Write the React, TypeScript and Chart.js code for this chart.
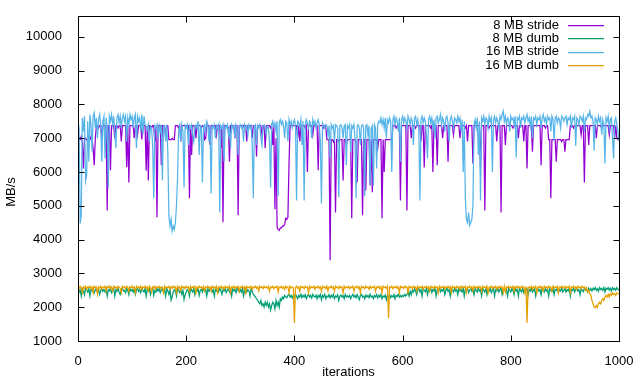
import React, { useEffect, useRef } from "react";
import { Chart, registerables } from "chart.js";

Chart.register(...registerables);

// iteration sampling grid (every 2nd iteration, 0..1000)
const ITERATIONS: number[] = Array.from({ length: 501 }, (_, i) => i * 2);

const SERIES_LABELS = ["8 MB stride", "8 MB dumb", "16 MB stride", "16 MB dumb"];
const SERIES_COLORS = ["#9400d3", "#009e73", "#56b4e9", "#e69f00"];

const X_TICKS = [0, 200, 400, 600, 800, 1000];
const Y_TICKS = [1000, 2000, 3000, 4000, 5000, 6000, 7000, 8000, 9000, 10000];

const STRIDE_8MB = [
  7000, 6960, 6960, 7050, 6900, 6100, 6960, 7000, 6960, 6900, 6960, 7050, 6960, 6960, 6700, 6200, 7000, 7370, 7370, 7300, 7370, 7370, 7000, 7370, 7370,
  7370, 7300, 4860, 7370, 7370, 6050, 7370, 7370, 7370, 7000, 7370, 7370, 7300, 7370, 7370, 6900, 7370, 7370, 7370, 7370, 6140, 7370, 5690, 7370, 7370,
  7370, 7370, 7000, 7370, 7370, 7100, 7370, 7370, 7370, 6960, 7370, 7370, 7370, 6040, 7370, 5750, 7370, 7370, 7300, 7370, 7370, 6900, 7370, 4660, 7370,
  7370, 7370, 6200, 7370, 7370, 7370, 7000, 7370, 7370, 6960, 6960, 6960, 7000, 6960, 6960, 7370, 7370, 7370, 7300, 7370, 6900, 7370, 7370, 7370, 7370,
  7370, 7370, 7370, 5220, 7370, 6500, 7370, 7370, 7370, 7000, 7370, 7370, 7370, 7370, 7300, 7370, 7370, 6960, 7000, 7370, 7370, 7370, 6800, 7370, 7370,
  7370, 7370, 7370, 7100, 7370, 7370, 7370, 6700, 7370, 4510, 7370, 7370, 7370, 7370, 7300, 6300, 7370, 7370, 7370, 7370, 7000, 7370, 7370, 4720, 7370,
  7370, 7370, 7300, 7370, 7370, 7370, 6900, 7370, 7370, 7370, 7370, 7000, 7370, 7370, 7370, 6460, 7370, 7370, 7370, 7370, 7100, 7370, 7370, 6700, 7370,
  7370, 7370, 7370, 7300, 7370, 6800, 7370, 4900, 7000, 4360, 4300, 4270, 4350, 4350, 4400, 4400, 4450, 4630, 4600, 4650, 6200, 7370, 7370, 7370, 7370,
  7370, 7370, 7370, 7000, 7370, 6900, 7370, 7370, 7370, 7370, 7300, 7370, 6000, 7370, 7370, 7370, 7370, 7100, 7370, 7370, 7370, 7370, 6050, 7370, 7370,
  7370, 7370, 7300, 7370, 7370, 6960, 6960, 6960, 3390, 6960, 6960, 6900, 6960, 4800, 6960, 6960, 6900, 6960, 6960, 6960, 5750, 6960, 6960, 6800, 6960,
  6960, 6960, 6960, 4630, 6960, 6960, 6960, 6900, 5700, 6960, 6960, 6960, 6960, 4720, 6960, 6960, 5450, 6960, 6960, 6960, 5600, 6960, 5400, 6960, 6960,
  6960, 6960, 6700, 6960, 6960, 6960, 4630, 6960, 6000, 6960, 6960, 6960, 6950, 6960, 6960, 6960, 7370, 7370, 7370, 7300, 7370, 7370, 7370, 5160, 7370,
  7370, 7370, 7370, 7370, 4860, 7370, 7370, 7370, 7000, 7370, 7370, 7370, 7300, 7370, 7370, 7370, 7370, 6900, 7370, 7370, 6130, 7370, 7370, 7370, 7370,
  7370, 7300, 7370, 6000, 7370, 7370, 7370, 6200, 7370, 7370, 7370, 7370, 7000, 7370, 7370, 7370, 7370, 6300, 7370, 7370, 7370, 7370, 7100, 7370, 7370,
  7370, 7370, 7370, 7000, 7370, 7370, 7370, 7370, 7300, 7370, 6900, 7370, 7370, 7370, 7370, 6250, 7370, 7370, 7370, 7370, 7370, 7370, 6100, 7370, 7370,
  7370, 4860, 7370, 7370, 7370, 7300, 7370, 7370, 7370, 7370, 7370, 7370, 6900, 7370, 7370, 7370, 4800, 7370, 7370, 7370, 6800, 7370, 7370, 7370, 7370,
  7370, 7370, 7300, 7370, 7370, 7370, 7370, 7000, 7370, 7370, 7370, 7370, 6900, 7370, 7370, 6100, 7370, 7370, 7370, 7370, 6600, 7370, 7370, 7370, 7370,
  7370, 7370, 7370, 6200, 7370, 7370, 7370, 7300, 7370, 7370, 6960, 6960, 5220, 6960, 6960, 6960, 6960, 6300, 6960, 6960, 6960, 6960, 6900, 6960, 6960,
  6600, 6960, 6960, 6960, 6960, 7370, 7370, 7370, 7300, 7370, 7370, 7370, 7370, 7370, 7370, 7100, 7370, 7370, 5690, 7370, 7370, 7370, 6800, 7370, 7370,
  7370, 7370, 7370, 7370, 7000, 7370, 7370, 7370, 7370, 7300, 7370, 7370, 7370, 7370, 7370, 7370, 7100, 7370, 7370, 7370, 7370, 7000, 7370, 7000, 6960,
  7050,
];

const DUMB_8MB = [
  2350, 2450, 2520, 2330, 2550, 2480, 2370, 2560, 2500, 2450, 2550, 2330, 2520, 2480, 2550, 2430, 2500, 2560, 2450, 2520, 2380, 2500, 2550, 2470, 2520,
  2450, 2550, 2330, 2520, 2480, 2560, 2430, 2500, 2550, 2330, 2520, 2470, 2550, 2450, 2380, 2520, 2560, 2480, 2500, 2430, 2550, 2500, 2370, 2560, 2480,
  2520, 2450, 2550, 2380, 2500, 2560, 2470, 2520, 2430, 2550, 2500, 2450, 2560, 2330, 2520, 2480, 2550, 2370, 2500, 2560, 2350, 2500, 2450, 2550, 2480,
  2550, 2430, 2500, 2560, 2450, 2520, 2330, 2550, 2480, 2380, 2520, 2210, 2300, 2450, 2520, 2480, 2330, 2550, 2500, 2430, 2520, 2380, 2500, 2230, 2370,
  2450, 2520, 2480, 2330, 2550, 2500, 2450, 2560, 2370, 2520, 2480, 2550, 2350, 2500, 2530, 2450, 2560, 2480, 2520, 2330, 2550, 2470, 2520, 2560, 2450,
  2520, 2330, 2550, 2480, 2520, 2450, 2560, 2500, 2380, 2520, 2480, 2550, 2430, 2500, 2560, 2450, 2520, 2330, 2550, 2480, 2520, 2430, 2560, 2500, 2450,
  2520, 2450, 2550, 2330, 2500, 2560, 2450, 2520, 2480, 2330, 2550, 2470, 2380, 2350, 2300, 2250, 2200, 2150, 2100, 2200, 2050, 2100, 2000, 2150, 2050,
  2150, 2000, 2100, 1920, 2050, 2150, 2100, 1950, 2200, 2050, 2150, 2000, 2250, 2200, 2300, 2250, 2350, 2300, 2280, 2350, 2380, 2300, 2350, 2270, 2350,
  2300, 2380, 2320, 2250, 2350, 2300, 2380, 2280, 2350, 2300, 2370, 2250, 2330, 2380, 2300, 2350, 2270, 2380, 2320, 2300, 2360, 2250, 2350, 2300, 2380,
  2220, 2350, 2300, 2380, 2250, 2330, 2300, 2370, 2280, 2350, 2300, 2380, 2250, 2330, 2300, 2370, 2200, 2320, 2360, 2300, 2350, 2250, 2380, 2300, 2340,
  2300, 2350, 2250, 2330, 2380, 2300, 2350, 2280, 2370, 2300, 2220, 2350, 2380, 2300, 2330, 2250, 2360, 2300, 2350, 2280, 2380, 2300, 2330, 2250, 2350,
  2300, 2370, 2280, 2350, 2300, 2380, 2250, 2330, 2300, 2360, 2220, 2350, 2300, 2380, 2280, 2340, 2300, 2370, 2250, 2350, 2320, 2380, 2300, 2350, 2300,
  2350, 2320, 2380, 2330, 2370, 2450, 2330, 2470, 2370, 2500, 2450, 2550, 2480, 2370, 2520, 2550, 2450, 2520, 2330, 2550, 2500, 2460, 2550, 2370, 2520,
  2500, 2550, 2430, 2520, 2480, 2550, 2330, 2520, 2500, 2560, 2450, 2520, 2480, 2550, 2370, 2500, 2560, 2470, 2520, 2330, 2550, 2500, 2450, 2550, 2480,
  2520, 2370, 2550, 2480, 2520, 2450, 2560, 2330, 2520, 2500, 2550, 2430, 2500, 2560, 2470, 2520, 2370, 2550, 2500, 2450, 2560, 2480, 2520, 2330, 2550,
  2500, 2450, 2550, 2370, 2520, 2480, 2560, 2430, 2500, 2550, 2330, 2520, 2480, 2550, 2450, 2520, 2560, 2370, 2500, 2550, 2470, 2520, 2330, 2550, 2500,
  2450, 2550, 2500, 2370, 2560, 2480, 2520, 2330, 2550, 2500, 2450, 2560, 2430, 2520, 2500, 2550, 2370, 2520, 2480, 2560, 2450, 2500, 2550, 2330, 2520,
  2550, 2480, 2520, 2370, 2560, 2500, 2450, 2550, 2480, 2520, 2330, 2550, 2500, 2460, 2560, 2370, 2520, 2500, 2550, 2430, 2520, 2480, 2560, 2450, 2500,
  2550, 2450, 2520, 2480, 2560, 2330, 2520, 2500, 2550, 2450, 2520, 2560, 2480, 2520, 2370, 2550, 2500, 2460, 2560, 2500, 2530, 2450, 2560, 2500, 2550,
  2480, 2560, 2520, 2580, 2500, 2550, 2470, 2580, 2520, 2560, 2500, 2580, 2450, 2560, 2530, 2580, 2500, 2560, 2480, 2580, 2520, 2560, 2500, 2580, 2530,
  2500,
];

const STRIDE_16MB = [
  7500, 7300, 4480, 4700, 7600, 7200, 7650, 5740, 5900, 7500, 6300, 7700, 7400, 6600, 7650, 7750, 7300, 7600, 7000, 7550, 7700, 7400, 6300, 7500, 7650,
  6400, 7600, 7300, 5540, 7650, 7500, 7700, 7400, 7650, 7200, 6700, 7600, 7700, 7450, 7650, 7300, 7600, 7700, 7500, 7650, 6900, 7600, 7400, 7700, 7550,
  7650, 7300, 7600, 7700, 6700, 7650, 7500, 7600, 7200, 7700, 7100, 7650, 7400, 7350, 7250, 7400, 6900, 7350, 7300, 6800, 5220, 7370, 7300, 7400, 7000,
  7370, 7200, 7400, 5750, 7350, 7370, 6900, 7400, 6600, 4700, 4400, 4600, 4250, 4400, 4300, 4500, 5000, 5800, 7200, 7370, 6900, 7400, 7200, 5540, 7370,
  7300, 7400, 6800, 7370, 7300, 7400, 7100, 6900, 7370, 7400, 7300, 7500, 6500, 7370, 7300, 5690, 7370, 7400, 7200, 7500, 7400, 6900, 7370, 5365, 7370,
  7300, 7400, 7000, 7370, 7300, 7400, 4800, 7370, 7300, 7400, 6300, 7370, 7300, 7400, 7100, 7370, 6700, 7400, 7300, 7370, 7000, 7400, 7300, 6500, 7370,
  7400, 7300, 7370, 6900, 7400, 7300, 7370, 7100, 7400, 7300, 7370, 6800, 5220, 7370, 7400, 6800, 7370, 7300, 7400, 7000, 6800, 7370, 7400, 7300, 7100,
  7370, 7300, 6900, 5540, 7400, 7500, 7350, 7450, 7200, 7500, 5280, 7450, 7550, 7400, 7500, 7350, 7000, 7500, 7450, 6900, 7550, 7400, 7500, 7300, 7450,
  7550, 7400, 5160, 7500, 7450, 7350, 7550, 6800, 7500, 5160, 7400, 7550, 7450, 7300, 7500, 7450, 7000, 7550, 7400, 7500, 7300, 7450, 7550, 7400, 6900,
  5070, 7450, 7370, 7300, 7400, 7370, 7100, 7370, 6400, 7400, 7300, 7370, 6900, 7400, 7370, 7300, 5250, 7370, 7400, 7300, 7000, 7370, 7400, 6200, 7370,
  7300, 7400, 6600, 7370, 7300, 7400, 7000, 5220, 7370, 7400, 7300, 6800, 7370, 7400, 7300, 5280, 7370, 7400, 7100, 7370, 5600, 7300, 7370, 5600, 7400,
  7300, 6100, 7400, 7500, 7450, 7600, 7400, 7550, 7300, 7600, 7000, 7550, 7450, 7600, 7500, 6000, 7550, 7650, 7400, 7600, 7500, 7200, 7600, 6300, 7550,
  7650, 7450, 7600, 7500, 7300, 7650, 7550, 7400, 7600, 7500, 6800, 7600, 7650, 7400, 7550, 7300, 5160, 7550, 7650, 7450, 7600, 7500, 7100, 6400, 7550,
  7650, 7450, 7600, 7300, 7550, 7000, 7600, 7650, 7450, 7550, 7700, 7400, 7600, 7500, 7200, 7600, 7650, 7450, 6900, 7550, 7650, 7500, 7300, 7600, 7550,
  7450, 7650, 7500, 7600, 7200, 7550, 6000, 7500, 5200, 4600, 4500, 4800, 4420, 4500, 4600, 5000, 7400, 7550, 7300, 7600, 6500, 7500, 5160, 7600, 7500,
  7650, 7400, 7600, 7550, 7300, 7650, 7500, 7600, 6000, 7550, 7650, 7450, 7600, 7500, 7300, 7650, 7550, 7700, 7800, 7500, 7650, 7400, 7600, 7550, 7200,
  7650, 7550, 7600, 7400, 7650, 6430, 7600, 7550, 7650, 7300, 7600, 7550, 7650, 7450, 7600, 7700, 7500, 7600, 7350, 7650, 7000, 7600, 7550, 7650, 7400,
  7600, 7550, 7650, 7300, 7600, 7700, 7500, 7600, 7400, 7650, 7550, 7600, 7200, 7650, 7550, 6930, 7600, 7650, 7450, 7600, 7550, 7300, 7650, 7600, 7500,
  7600, 7650, 7400, 7600, 7550, 7650, 7300, 7600, 7550, 7650, 6780, 7600, 7550, 7400, 7650, 7600, 7500, 7650, 7200, 7600, 7550, 7700, 7650, 7800, 7600,
  7650, 7500, 6630, 7600, 7550, 7400, 7650, 7500, 7600, 7100, 7550, 7400, 6250, 7600, 7500, 7650, 7300, 7550, 7600, 7000, 6400, 7500, 7600, 7400, 7200,
  6900,
];

const DUMB_16MB = [
  2600, 2550, 2620, 2580, 2430, 2600, 2560, 2620, 2530, 2600, 2580, 2620, 2550, 2600, 2430, 2620, 2580, 2600, 2380, 2600, 2560, 2620, 2540, 2600, 2580,
  2620, 2470, 2600, 2580, 2630, 2550, 2600, 2480, 2620, 2580, 2600, 2540, 2620, 2600, 2560, 2430, 2620, 2580, 2600, 2550, 2620, 2600, 2470, 2600, 2580,
  2620, 2560, 2600, 2430, 2620, 2580, 2600, 2550, 2620, 2530, 2600, 2580, 2620, 2560, 2600, 2480, 2620, 2580, 2450, 2600, 2560, 2620, 2540, 2600, 2580,
  2620, 2550, 2600, 2580, 2430, 2620, 2560, 2600, 2580, 2620, 2530, 2600, 2560, 2620, 2580, 2600, 2430, 2620, 2560, 2600, 2480, 2620, 2580, 2600, 2550,
  2620, 2580, 2600, 2470, 2620, 2560, 2600, 2580, 2620, 2430, 2600, 2560, 2620, 2580, 2600, 2540, 2620, 2480, 2600, 2580, 2620, 2560, 2600, 2470, 2620,
  2580, 2600, 2550, 2620, 2430, 2600, 2580, 2620, 2560, 2600, 2530, 2620, 2580, 2600, 2560, 2620, 2430, 2600, 2580, 2620, 2550, 2600, 2580, 2620, 2470,
  2600, 2580, 2620, 2550, 2600, 2430, 2620, 2580, 2600, 2560, 2620, 2530, 2600, 2580, 2620, 2560, 2600, 2480, 2620, 2580, 2600, 2550, 2620, 2580, 2600,
  2560, 2620, 2470, 2600, 2580, 2620, 2550, 2600, 2580, 2620, 2450, 2600, 2580, 2620, 2560, 2600, 2530, 2620, 2580, 2600, 2430, 2620, 2570, 2600, 2580,
  1530, 2580, 2620, 2560, 2600, 2470, 2620, 2580, 2600, 2550, 2620, 2580, 2600, 2430, 2620, 2560, 2600, 2580, 2620, 2530, 2600, 2580, 2620, 2560, 2600,
  2470, 2620, 2580, 2600, 2550, 2620, 2480, 2600, 2580, 2620, 2560, 2600, 2470, 2620, 2580, 2600, 2550, 2620, 2580, 2600, 2430, 2620, 2560, 2600, 2580,
  2620, 2550, 2600, 2580, 2620, 2470, 2600, 2580, 2620, 2560, 2600, 2430, 2620, 2580, 2600, 2550, 2620, 2580, 2600, 2530, 2620, 2560, 2600, 2580, 2620,
  2470, 2600, 2580, 2620, 2550, 2600, 2430, 2620, 2580, 2600, 2560, 2620, 1680, 2600, 2580, 2620, 2550, 2600, 2580, 2620, 2560, 2600, 2430, 2620, 2580,
  2600, 2560, 2620, 2580, 2600, 2430, 2620, 2580, 2600, 2550, 2620, 2580, 2600, 2480, 2620, 2560, 2600, 2580, 2620, 2530, 2600, 2580, 2620, 2560, 2600,
  2470, 2620, 2580, 2600, 2550, 2620, 2580, 2600, 2430, 2620, 2560, 2600, 2580, 2620, 2540, 2600, 2580, 2620, 2560, 2600, 2430, 2620, 2580, 2600, 2550,
  2620, 2580, 2600, 2530, 2620, 2560, 2600, 2580, 2620, 2430, 2600, 2580, 2620, 2560, 2600, 2480, 2620, 2580, 2600, 2550, 2620, 2580, 2600, 2470, 2620,
  2580, 2600, 2560, 2620, 2430, 2600, 2580, 2620, 2550, 2600, 2580, 2620, 2530, 2600, 2560, 2620, 2580, 2600, 2430, 2620, 2450, 2600, 2580, 2620, 2560,
  2600, 2580, 2620, 2470, 2600, 2560, 2620, 2580, 2600, 2550, 2620, 2580, 2600, 2430, 2620, 1530, 2580, 2600, 2560, 2620, 2530, 2600, 2580, 2620, 2430,
  2600, 2580, 2620, 2560, 2600, 2480, 2620, 2580, 2600, 2550, 2620, 2580, 2600, 2470, 2620, 2560, 2600, 2580, 2620, 2430, 2600, 2580, 2620, 2560, 2600,
  2620, 2550, 2600, 2580, 2620, 2430, 2600, 2580, 2620, 2560, 2600, 2530, 2620, 2580, 2600, 2550, 2620, 2580, 2600, 2500, 2580, 2450, 2500, 2400, 2350,
  2200, 2100, 2000, 1980, 2050, 2000, 2100, 2150, 2100, 2200, 2250, 2200, 2300, 2350, 2300, 2380, 2300, 2400, 2350, 2420, 2380, 2400, 2350, 2420, 2400,
  2400,
];

const FONT_FAMILY = "'Liberation Sans', Arial, sans-serif";

export default function App() {
  const ref = useRef<HTMLCanvasElement>(null);

  useEffect(() => {
    const canvas = ref.current;
    if (!canvas) return;
    const series = [STRIDE_8MB, DUMB_8MB, STRIDE_16MB, DUMB_16MB];
    const datasets = series.map((vals, i) => ({
      label: SERIES_LABELS[i],
      data: vals.map((v, k) => ({ x: ITERATIONS[k], y: v })),
      borderColor: SERIES_COLORS[i],
      backgroundColor: SERIES_COLORS[i],
      borderWidth: 1.25,
      pointRadius: 0,
      pointHoverRadius: 0,
      tension: 0,
      fill: false,
      order: series.length - i,
    }));

    const gnuFrame = {
      id: "gnuFrame",
      afterDraw(chart: any) {
        const { ctx, chartArea: a, scales } = chart;
        ctx.save();
        ctx.strokeStyle = "#000";
        ctx.lineWidth = 1;
        const L = Math.round(a.left) + 0.5;
        const R = Math.round(a.right) + 0.5;
        const T = Math.round(a.top) + 0.5;
        const B = Math.round(a.bottom) + 0.5;
        ctx.beginPath();
        ctx.rect(L, T, R - L, B - T);
        Y_TICKS.forEach((v) => {
          const y = Math.round(scales.y.getPixelForValue(v)) + 0.5;
          ctx.moveTo(L, y);
          ctx.lineTo(L + 6, y);
          ctx.moveTo(R, y);
          ctx.lineTo(R - 6, y);
        });
        X_TICKS.forEach((v) => {
          const x = Math.round(scales.x.getPixelForValue(v)) + 0.5;
          ctx.moveTo(x, B);
          ctx.lineTo(x, B - 6);
          ctx.moveTo(x, T);
          ctx.lineTo(x, T + 6);
        });
        ctx.stroke();

        // legend (gnuplot style: right-aligned text, line sample to the right)
        ctx.font = `13px ${FONT_FAMILY}`;
        ctx.textAlign = "right";
        ctx.textBaseline = "middle";
        SERIES_LABELS.forEach((lab, i) => {
          const y = 25 + i * 13.4;
          ctx.fillStyle = "#000";
          ctx.fillText(lab, 559, y);
          ctx.strokeStyle = SERIES_COLORS[i];
          ctx.lineWidth = 1.25;
          ctx.beginPath();
          ctx.moveTo(568, Math.round(y) + 0.5);
          ctx.lineTo(604, Math.round(y) + 0.5);
          ctx.stroke();
        });

        // axis titles
        ctx.fillStyle = "#000";
        ctx.textAlign = "center";
        ctx.fillText("iterations", (a.left + a.right) / 2, 372);
        ctx.save();
        ctx.translate(11, 192);
        ctx.rotate(-Math.PI / 2);
        ctx.fillText("MB/s", 0, 0);
        ctx.restore();
        ctx.restore();
      },
    };

    const tickFont = { family: FONT_FAMILY, size: 13 };

    const chart = new Chart(canvas, {
      type: "line",
      data: { datasets },
      options: {
        animation: false,
        responsive: false,
        devicePixelRatio: 1,
        layout: { padding: { top: 15, right: 21, left: 0, bottom: 0 } },
        plugins: {
          legend: { display: false },
          tooltip: { enabled: false },
        },
        scales: {
          x: {
            type: "linear",
            min: 0,
            max: 1000,
            afterBuildTicks: (s: any) => {
              s.ticks = X_TICKS.map((v) => ({ value: v }));
            },
            afterFit: (s: any) => {
              s.height = 43;
            },
            grid: { display: false },
            border: { display: false },
            ticks: {
              padding: 5,
              color: "#000",
              font: tickFont,
              maxRotation: 0,
              autoSkip: false,
              callback: (v: any) => String(v),
            },
          },
          y: {
            type: "linear",
            min: 1000,
            max: 10620,
            afterBuildTicks: (s: any) => {
              s.ticks = Y_TICKS.map((v) => ({ value: v }));
            },
            afterFit: (s: any) => {
              s.width = 78;
            },
            grid: { display: false },
            border: { display: false },
            ticks: {
              padding: 8,
              color: "#000",
              font: tickFont,
              autoSkip: false,
              callback: (v: any) => String(v),
            },
          },
        },
      },
      plugins: [gnuFrame],
    } as any);

    return () => chart.destroy();
  }, []);

  return (
    <div style={{ position: "absolute", left: 0, top: 0, width: 640, height: 384, background: "#fff" }}>
      <canvas ref={ref} width={640} height={384} style={{ display: "block", width: 640, height: 384 }} />
    </div>
  );
}
